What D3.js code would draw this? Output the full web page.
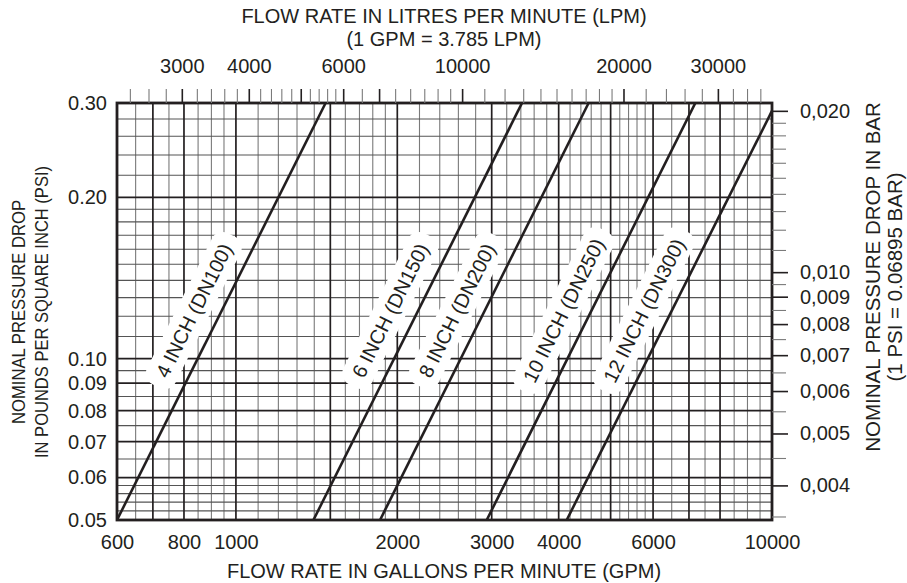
<!DOCTYPE html>
<html><head><meta charset="utf-8">
<script src="https://cdn.jsdelivr.net/npm/d3@7"></script>
<style>
body{margin:0;background:#fff}
text{font-family:"Liberation Sans",Arial,Helvetica,sans-serif;fill:#231f20}
</style>
</head><body>
<svg id="chart" width="907" height="583"></svg>
<script>
// ---- data ----
const pipeLabels = ["4 INCH (DN100)", "6 INCH (DN150)", "8 INCH (DN200)", "10 INCH (DN250)", "12 INCH (DN300)"];
const dn100 = [[600, 0.05], [1470, 0.30]];
const dn150 = [[1395, 0.05], [3417, 0.30]];
const dn200 = [[1857, 0.05], [4549, 0.30]];
const dn250 = [[2937, 0.05], [7194, 0.30]];
const dn300 = [[4141, 0.05], [10000, 0.29]];
const pipeSeries = [dn100, dn150, dn200, dn250, dn300];

const gpmTickLabels = [600, 800, 1000, 2000, 3000, 4000, 6000, 10000];
const psiTickLabels = [0.05, 0.06, 0.07, 0.08, 0.09, 0.10, 0.20, 0.30];
const lpmTickLabels = [3000, 4000, 6000, 10000, 20000, 30000];
const barTickLabels = [0.004, 0.005, 0.006, 0.007, 0.008, 0.009, 0.010, 0.020];

const gpmGridMajor = [700, 800, 1000, 1500, 2000, 3000, 4000, 5000, 6000, 7000, 8000];
const gpmGridMinor = [650, 750, 850, 900, 950, 1100, 1200, 1300, 1400, 1600, 1700, 1800, 1900,
  2200, 2400, 2600, 2800, 3200, 3400, 3600, 3800, 4200, 4400, 4600, 4800, 5200, 5400, 5600, 5800,
  6500, 7500, 8500, 9000, 9500];
const psiGridMajor = [0.06, 0.07, 0.08, 0.09, 0.10, 0.20];
const psiGridMinor = [0.052, 0.054, 0.056, 0.058, 0.065, 0.075, 0.085, 0.095, 0.11, 0.12, 0.13, 0.14,
  0.15, 0.16, 0.17, 0.18, 0.19, 0.22, 0.24, 0.26, 0.28];
const lpmTickMajor = [3000, 4000, 5000, 6000, 7000, 10000, 20000, 30000];
const lpmTickMinor = [2400, 2600, 2800, 3200, 3400, 3600, 3800, 4200, 4400, 4600, 4800, 5200, 5400, 5600, 5800,
  6500, 7500, 8000, 8500, 9000, 9500, 11000, 12000, 13000, 14000, 15000, 16000, 17000, 18000, 19000,
  22000, 24000, 26000, 28000, 32000, 34000, 36000];
const barTickMinor = [0.0035, 0.0045, 0.0055, 0.0065, 0.0075, 0.0085, 0.0095,
  0.011, 0.012, 0.013, 0.014, 0.015, 0.016, 0.017, 0.018, 0.019];

const GPM_TO_LPM = 3.785, PSI_TO_BAR = 0.06895;

// ---- layout ----
const L = 117, R = 772, T = 103, B = 520;
const FS = 20;
const ink = "#231f20";

const svg = d3.select("#chart");
const x = d3.scaleLog().domain([600, 10000]).range([L, R]);
const y = d3.scaleLog().domain([0.05, 0.30]).range([B, T]);
const xTop = d3.scaleLog().domain([600 * GPM_TO_LPM, 10000 * GPM_TO_LPM]).range([L, R]);
const yRight = d3.scaleLog().domain([0.05 * PSI_TO_BAR, 0.30 * PSI_TO_BAR]).range([B, T]);

// grid
const grid = svg.append("g");
grid.selectAll(".vmin").data(gpmGridMinor).join("line")
  .attr("x1", d => x(d)).attr("x2", d => x(d)).attr("y1", T).attr("y2", B)
  .attr("stroke", "#7a7a7a").attr("stroke-width", 1.1);
grid.selectAll(".hmin").data(psiGridMinor).join("line")
  .attr("y1", d => y(d)).attr("y2", d => y(d)).attr("x1", L).attr("x2", R)
  .attr("stroke", "#555").attr("stroke-width", 1.1);
grid.selectAll(".vmaj").data(gpmGridMajor).join("line")
  .attr("x1", d => x(d)).attr("x2", d => x(d)).attr("y1", T).attr("y2", B)
  .attr("stroke", ink).attr("stroke-width", 1.7);
grid.selectAll(".hmaj").data(psiGridMajor).join("line")
  .attr("y1", d => y(d)).attr("y2", d => y(d)).attr("x1", L).attr("x2", R)
  .attr("stroke", ink).attr("stroke-width", 1.7);

// pipe labels with white halos
const labelPsi = 0.123;
const labels = svg.append("g");
pipeSeries.forEach((s, i) => {
  const [p0, p1] = s;
  const x0 = x(p0[0]), y0 = y(p0[1]), x1 = x(p1[0]), y1 = y(p1[1]);
  const ang = Math.atan2(y1 - y0, x1 - x0) * 180 / Math.PI;
  const ly = y(labelPsi);
  const lx = x0 + (x1 - x0) * (ly - y0) / (y1 - y0);
  const cx = lx - 28, cy = ly;
  const g = labels.append("g").attr("transform", `translate(${cx},${cy}) rotate(${ang})`);
  const rect = g.append("rect").attr("fill", "#fff");
  const t = g.append("text").attr("text-anchor", "middle").attr("dy", "0.36em")
    .attr("font-size", FS).text(pipeLabels[i]);
  const w = t.node().getComputedTextLength();
  const hw = w / 2 + 11, hh = FS / 2 + 6;
  rect.attr("x", -hw).attr("y", -hh).attr("width", 2 * hw).attr("height", 2 * hh).attr("rx", 12);
});

// pipe lines
svg.append("clipPath").attr("id", "clip").append("rect")
  .attr("x", L).attr("y", T).attr("width", R - L).attr("height", B - T);
const line = d3.line().x(d => x(d[0])).y(d => y(d[1]));
svg.append("g").attr("clip-path", "url(#clip)").selectAll("path").data(pipeSeries).join("path")
  .attr("d", line).attr("fill", "none").attr("stroke", ink).attr("stroke-width", 2.6);

// frame
svg.append("rect").attr("x", L).attr("y", T).attr("width", R - L).attr("height", B - T)
  .attr("fill", "none").attr("stroke", ink).attr("stroke-width", 2.8);

function styleAxis(g, color, width) {
  g.select(".domain").remove();
  g.selectAll(".tick line").attr("stroke", color).attr("stroke-width", width);
  g.selectAll(".tick text").attr("font-size", FS).attr("fill", ink)
    .attr("font-family", "Liberation Sans, Arial, sans-serif");
}

// bottom axis (GPM)
svg.append("g").attr("transform", `translate(0,${B})`)
  .call(d3.axisBottom(x).tickValues(gpmTickLabels).tickSize(0).tickPadding(15).tickFormat(d3.format("d")))
  .call(g => styleAxis(g, ink, 1));

// left axis (PSI)
svg.append("g").attr("transform", `translate(${L},0)`)
  .call(d3.axisLeft(y).tickValues(psiTickLabels).tickSize(0).tickPadding(10).tickFormat(d3.format(".2f")))
  .call(g => styleAxis(g, ink, 1));

// top axis (LPM)
svg.append("g").attr("transform", `translate(0,${T})`)
  .call(d3.axisTop(xTop).tickValues(lpmTickMinor).tickSize(14).tickFormat(""))
  .call(g => styleAxis(g, "#7a7a7a", 1.1));
svg.append("g").attr("transform", `translate(0,${T})`)
  .call(d3.axisTop(xTop).tickValues(lpmTickMajor).tickSize(14).tickPadding(16)
    .tickFormat(d => lpmTickLabels.includes(d) ? d3.format("d")(d) : ""))
  .call(g => styleAxis(g, ink, 1.6));

// right axis (BAR)
const barFmt = d => d3.format(".3f")(d).replace(".", ",");
svg.append("g").attr("transform", `translate(${R},0)`)
  .call(d3.axisRight(yRight).tickValues(barTickMinor).tickSize(14).tickFormat(""))
  .call(g => styleAxis(g, "#7a7a7a", 1.1));
svg.append("g").attr("transform", `translate(${R},0)`)
  .call(d3.axisRight(yRight).tickValues(barTickLabels).tickSize(16).tickPadding(12).tickFormat(barFmt))
  .call(g => styleAxis(g, ink, 1.6));

// titles
const titles = svg.append("g").attr("font-size", FS).attr("text-anchor", "middle");
titles.append("text").attr("x", 444).attr("y", 23).text("FLOW RATE IN LITRES PER MINUTE (LPM)");
titles.append("text").attr("x", 444).attr("y", 46).text("(1 GPM = 3.785 LPM)");
titles.append("text").attr("x", 444).attr("y", 578).text("FLOW RATE IN GALLONS PER MINUTE (GPM)");
titles.append("text").attr("font-size", 19).attr("transform", "translate(25,312) rotate(-90)")
  .attr("textLength", 224).attr("lengthAdjust", "spacingAndGlyphs").text("NOMINAL PRESSURE DROP");
titles.append("text").attr("font-size", 19).attr("transform", "translate(48,312) rotate(-90)")
  .attr("textLength", 292).attr("lengthAdjust", "spacingAndGlyphs").text("IN POUNDS PER SQUARE INCH (PSI)");
titles.append("text").attr("font-size", 20.5).attr("transform", "translate(880,277) rotate(-90)").text("NOMINAL PRESSURE DROP IN BAR");
titles.append("text").attr("font-size", 20.5).attr("transform", "translate(902,277) rotate(-90)").text("(1 PSI = 0.06895 BAR)");
</script>
</body></html>
